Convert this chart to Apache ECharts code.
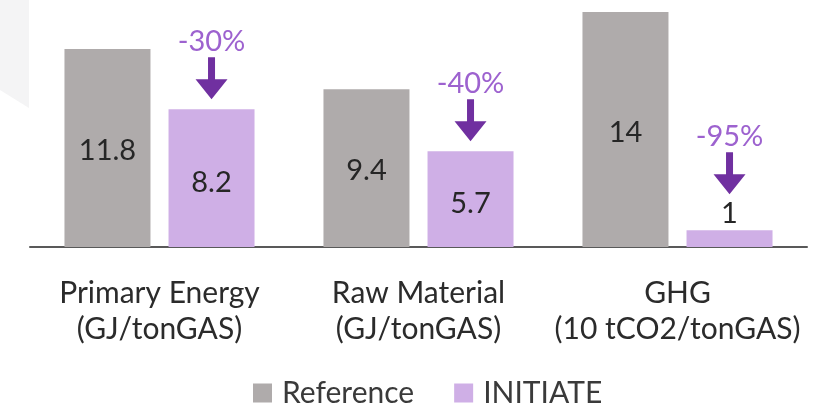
<!DOCTYPE html>
<html>
<head>
<meta charset="utf-8">
<script src="https://cdn.jsdelivr.net/npm/echarts@6/dist/echarts.min.js"></script>
<style>
  html, body { margin: 0; padding: 0; background: #ffffff; }
  #chart { width: 823px; height: 410px; }
</style>
</head>
<body>
<div id="chart"></div>
<script>
// Categories (two-line labels) and the two series being compared
const categories = ['Primary Energy\n(GJ/tonGAS)', 'Raw Material\n(GJ/tonGAS)', 'GHG\n(10 tCO2/tonGAS)'];
const referenceValues = [11.8, 9.4, 14];
const initiateValues = [8.2, 5.7, 1];
const reductionLabels = ['-30%', '-40%', '-95%'];
const seriesNames = ['Reference', 'INITIATE'];

// Styling
const FONT = 'Lato, "Open Sans", sans-serif';
const COLOR_REF = '#afabab';
const COLOR_INIT = '#cfafe6';
const COLOR_ARROW = '#7030a0';
const COLOR_PCT = '#9d62cf';
const BAR_WIDTH = 86;
const BAR_GAP = 0.21;

const chart = echarts.init(document.getElementById('chart'), null, { renderer: 'canvas' });

// Small values get their label above the bar instead of inside it
const labelAbove = v => v < 2;

// Arrow + percentage drawn above each INITIATE bar
function renderReduction(params, api) {
  const idx = api.value(0);
  const val = api.value(1);
  const p = api.coord([idx, val]);
  const x = p[0] + (BAR_WIDTH + BAR_WIDTH * BAR_GAP) / 2;
  const tipY = p[1] - (labelAbove(val) ? 36 : 10);
  const shaftW = 7, headW = 32, headH = 20, shaftH = 22;
  return {
    type: 'group',
    children: [
      {
        type: 'polygon',
        shape: {
          points: [
            [x - shaftW / 2, tipY - headH - shaftH],
            [x + shaftW / 2, tipY - headH - shaftH],
            [x + shaftW / 2, tipY - headH],
            [x + headW / 2, tipY - headH],
            [x, tipY],
            [x - headW / 2, tipY - headH],
            [x - shaftW / 2, tipY - headH]
          ]
        },
        style: { fill: COLOR_ARROW }
      },
      {
        type: 'text',
        style: {
          x: x,
          y: tipY - headH - shaftH - 16,
          text: reductionLabels[idx],
          fill: COLOR_PCT,
          font: '29px ' + FONT,
          align: 'center',
          verticalAlign: 'middle'
        }
      }
    ]
  };
}

const option = {
  backgroundColor: '#ffffff',
  animation: false,
  graphic: [
    {
      type: 'polygon',
      z: -10,
      shape: { points: [[0, 0], [29, 0], [29, 108], [0, 90]] },
      style: { fill: '#f4f4f5' }
    }
  ],
  grid: { left: 30, right: 16, top: 12, bottom: 163 },
  legend: {
    data: seriesNames,
    left: 248,
    top: 373,
    itemWidth: 19,
    itemHeight: 19,
    itemGap: 40,
    icon: 'rect',
    textStyle: { fontFamily: FONT, fontSize: 30, color: '#3a3a3a', padding: [0, 0, 0, 5] }
  },
  xAxis: {
    type: 'category',
    data: categories,
    axisLine: { show: true, lineStyle: { color: '#595959', width: 2 } },
    axisTick: { show: false },
    axisLabel: {
      fontFamily: FONT,
      fontSize: 30,
      lineHeight: 36,
      color: '#2b2b2b',
      margin: 28,
      interval: 0
    }
  },
  yAxis: {
    type: 'value',
    min: 0,
    max: 14,
    show: false,
    splitLine: { show: false }
  },
  series: [
    {
      name: seriesNames[0],
      type: 'bar',
      barWidth: BAR_WIDTH,
      barGap: (BAR_GAP * 100) + '%',
      itemStyle: { color: COLOR_REF },
      label: {
        show: true,
        position: 'inside',
        fontFamily: FONT,
        fontSize: 29,
        color: '#262626',
        offset: [0, 3]
      },
      data: referenceValues
    },
    {
      name: seriesNames[1],
      type: 'bar',
      barWidth: BAR_WIDTH,
      itemStyle: { color: COLOR_INIT },
      label: {
        show: true,
        fontFamily: FONT,
        fontSize: 29,
        color: '#262626'
      },
      data: initiateValues.map(v => ({
        value: v,
        label: labelAbove(v)
          ? { position: 'top', distance: 2 }
          : { position: 'inside', offset: [0, 4] }
      }))
    },
    {
      type: 'custom',
      name: 'reduction',
      renderItem: renderReduction,
      encode: { x: 0, y: 1 },
      silent: true,
      z: 5,
      data: initiateValues.map((v, i) => [i, v])
    }
  ]
};

chart.setOption(option);
</script>
</body>
</html>
